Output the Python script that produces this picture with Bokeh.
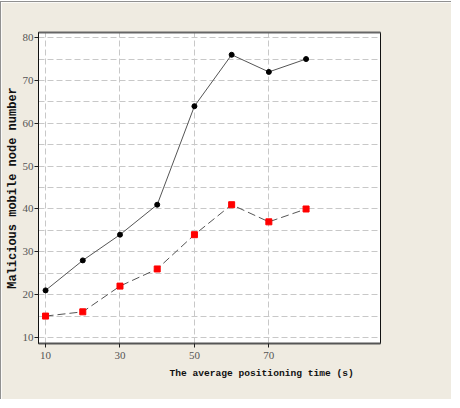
from bokeh.plotting import figure
from bokeh.models import FixedTicker, Range1d, LinearAxis, Title
from bokeh.embed import file_html
from bokeh.resources import INLINE

x_vals = [10, 20, 30, 40, 50, 60, 70, 80]
series_black = [21, 28, 34, 41, 64, 76, 72, 75]
series_red = [15, 16, 22, 26, 34, 41, 37, 40]
x_ticks = [10, 30, 50, 70]
y_ticks = [10, 20, 30, 40, 50, 60, 70, 80]
y_grid = [10, 15, 20, 25, 30, 35, 40, 45, 50, 55, 60, 65, 70, 75, 80]
x_label = "The average positioning time (s)"
y_label = "Malicious mobile node number"

BEIGE = "#efebe1"

p = figure(width=451, height=398, output_backend="svg", toolbar_location=None,
           x_range=Range1d(8.1, 100), y_range=Range1d(8.6, 81.2),
           min_border_left=37, min_border_right=72, min_border_top=30, min_border_bottom=57,
           border_fill_color=BEIGE, background_fill_color="white")
p.styles = {"border-left": "1px solid #909090", "border-top": "1px solid #909090",
            "margin-top": "1px"}

p.outline_line_color = "#111111"
p.outline_line_width = 1

p.xaxis.ticker = FixedTicker(ticks=x_ticks)
p.yaxis.ticker = FixedTicker(ticks=y_ticks)
p.xgrid.ticker = FixedTicker(ticks=x_ticks)
p.ygrid.ticker = FixedTicker(ticks=y_grid)
for g in (p.xgrid, p.ygrid):
    g.grid_line_color = "#c8c8c8"
    g.grid_line_dash = "6 3"
    g.grid_line_width = 1

for ax in (p.xaxis, p.yaxis):
    ax.major_tick_out = 4
    ax.major_tick_in = 0
    ax.minor_tick_line_color = None
    ax.major_label_text_font = "Liberation Serif"
    ax.major_label_text_font_size = "11px"
    ax.major_label_text_color = "#555555"
    ax.major_label_standoff = 1

p.xaxis.axis_line_color = "#555555"
p.xaxis.axis_line_width = 2
p.xaxis.major_tick_line_color = "#222222"
p.xaxis.major_label_standoff = 4
p.yaxis.axis_line_color = "#111111"
p.yaxis.major_tick_line_color = "#222222"

p.yaxis.axis_label = y_label
p.yaxis.axis_label_text_font = "Liberation Mono"
p.yaxis.axis_label_text_font_style = "bold"
p.yaxis.axis_label_text_font_size = "12px"
p.yaxis.axis_label_text_color = "#111111"
p.yaxis.axis_label_standoff = 0

top_axis = LinearAxis(ticker=FixedTicker(ticks=[]), axis_line_color="#666666",
                      axis_line_width=2, major_tick_line_color=None,
                      minor_tick_line_color=None, major_label_text_font_size="0px")
p.add_layout(top_axis, "above")

p.add_layout(Title(text=x_label, align="left", offset=131,
                   text_font="Liberation Mono", text_font_style="bold",
                   text_font_size="9.6px", text_color="#111111", standoff=9), "below")

p.line(x_vals, series_black, line_color="#555555", line_width=1)
p.scatter(x_vals, series_black, marker="circle", size=5, fill_color="black", line_color="black")

p.line(x_vals, series_red, line_color="#555555", line_width=1, line_dash="8 4")
p.scatter(x_vals, series_red, marker="square", size=6, fill_color="red", line_color="red")

open("out.html", "w").write(file_html(p, INLINE))
